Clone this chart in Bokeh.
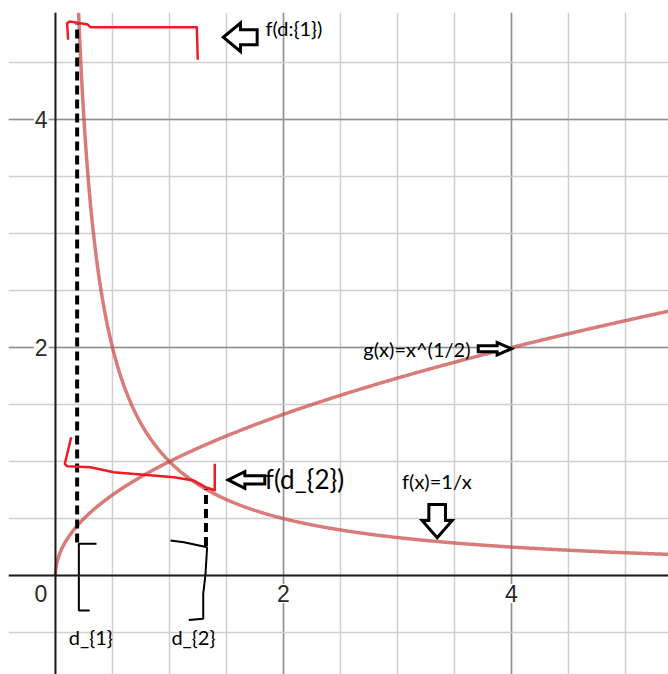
import numpy as np
from bokeh.plotting import figure
from bokeh.models import Range1d, Span, Grid, FixedTicker
from bokeh.core.properties import value
from bokeh.embed import file_html
from bokeh.resources import INLINE

# --- functions shown on the plot ---
f_label = "f(x)=1/x"
g_label = "g(x)=x^(1/2)"
f_x_start, x_end = 0.2025, 5.4

# --- tick labels ---
x_tick_vals = [2, 4]
x_tick_text = ["2", "4"]
y_tick_vals = [2, 4]
y_tick_text = ["2", "4"]
origin_text = "0"

# --- the two marked widths d_{1}, d_{2} ---
d_vals = [0.19, 1.32]
d_labels = ["d_{1}", "d_{2}"]
d_label_x = [0.31, 1.21]
d1_dash_top = 4.84               # the second one stops on 1/x
d_dash_bottom = [0.29, 0.26]

# hand-drawn red marks
red1_x = [0.111, 0.102, 0.123, 0.219, 0.283, 0.307, 1.240, 1.248]
red1_y = [4.700, 4.845, 4.860, 4.845, 4.833, 4.810, 4.810, 4.524]
red2_x = [0.138, 0.082, 0.103, 0.307, 0.511, 0.746, 1.038, 1.213, 1.316, 1.397, 1.397]
red2_y = [1.213, 0.980, 0.959, 0.950, 0.906, 0.886, 0.862, 0.833, 0.775, 0.748, 0.980]

# hand-drawn black brackets under the dashed lines
br1_x = [0.36, 0.205, 0.205, 0.30]
br1_y = [0.278, 0.278, -0.307, -0.307]
br2_x = [1.009, 1.126, 1.301, 1.330, 1.316, 1.296, 1.296, 1.169]
br2_y = [0.307, 0.292, 0.254, 0.248, 0.015, -0.160, -0.380, -0.389]

# block arrows: tip x, tip y, direction, head length, head half-width, shaft length, shaft half-width
arrows = [
    (1.472, 4.722, "left", 0.151, 0.125, 0.146, 0.065),
    (1.515, 0.839, "left", 0.146, 0.073, 0.175, 0.037),
    (4.000, 1.989, "right", 0.126, 0.054, 0.166, 0.026),
    (3.348, 0.331, "down", 0.151, 0.132, 0.141, 0.073),
]

# annotation texts: x, y, text, size, align
notes = [
    (1.842, 4.80, "f(d:{1})", "20px", "left"),
    (1.836, 0.851, "f(d_{2})", "26px", "left"),
    (3.64, 1.99, g_label, "20px", "right"),
    (3.04, 0.833, f_label, "20px", "left"),
]


def arrow_shape(tx, ty, d, hl, hh, sl, sh):
    u = [0, hl, hl, hl + sl, hl + sl, hl, hl]
    v = [0, hh, sh, sh, -sh, -sh, -hh]
    if d == "left":
        return [tx + a for a in u], [ty + b for b in v]
    if d == "right":
        return [tx - a for a in u], [ty + b for b in v]
    return [tx + b for b in v], [ty + a for a in u]


p = figure(width=668, height=674,
           x_range=Range1d(-0.412, 5.377), y_range=Range1d(-0.868, 4.939),
           output_backend="svg", toolbar_location=None,
           x_axis_location=None, y_axis_location=None,
           min_border_left=8, min_border_top=12, min_border_right=0, min_border_bottom=0)
p.outline_line_color = None
p.background_fill_color = "white"
p.border_fill_color = "white"
p.xgrid.visible = False
p.ygrid.visible = False

# grid: light every 0.5, darker every 2
minor = [k * 0.5 for k in range(-4, 13)]
major = [-2, 2, 4, 6]
for dim in (0, 1):
    p.add_layout(Grid(dimension=dim, ticker=FixedTicker(ticks=minor),
                      grid_line_color="#cfcfcf", grid_line_width=1.5))
    p.add_layout(Grid(dimension=dim, ticker=FixedTicker(ticks=major),
                      grid_line_color="#8f8f8f", grid_line_width=1.5))

# axes through the origin
p.add_layout(Span(location=0, dimension="width", line_color="#1c1c1c", line_width=2))
p.add_layout(Span(location=0, dimension="height", line_color="#1c1c1c", line_width=2))

# tick labels (white boxes break the grid lines behind them)
tick_style = dict(text_font=value("Liberation Sans"), text_font_size="23px",
                  text_color="#2a2a2a", text_align="center", text_baseline="middle")
p.text(x=[-0.127], y=[-0.158], text=[origin_text], **tick_style)
p.text(x=x_tick_vals, y=[-0.158] * len(x_tick_vals), text=x_tick_text,
       background_fill_color="white", padding=1, **tick_style)
p.text(x=[-0.125] * len(y_tick_vals), y=y_tick_vals, text=y_tick_text,
       background_fill_color="white", padding=1, **tick_style)

# curves
xf = np.linspace(f_x_start, x_end, 600)
xg = np.linspace(0, x_end, 600) ** 2 / x_end
curve_color = "#c74440"
p.line(xg, np.sqrt(xg), line_color=curve_color, line_alpha=0.7, line_width=3.5)
p.line(xf, 1 / xf, line_color=curve_color, line_alpha=0.7, line_width=3.5)

# dashed verticals at d_{1}, d_{2}
p.segment(x0=d_vals, y0=d_dash_bottom, x1=d_vals, y1=[d1_dash_top, 1 / d_vals[1]],
          line_color="black", line_width=4, line_dash="9 5")

# red hand marks
p.line(red1_x, red1_y, line_color="#ee1c24", line_width=2.5, line_join="round")
p.line(red2_x, red2_y, line_color="#ee1c24", line_width=2.5, line_join="round")

# brackets
p.line(br1_x, br1_y, line_color="black", line_width=2)
p.line(br2_x, br2_y, line_color="black", line_width=2)

# arrows
axs, ays = [], []
for a in arrows:
    xs, ys = arrow_shape(*a)
    axs.append(xs)
    ays.append(ys)
p.patches(axs, ays, fill_color="white", line_color="black", line_width=3, line_join="miter")

# texts
for x, y, t, s, al in notes:
    p.text(x=[x], y=[y], text=[t], text_font=value("Lato"), text_font_size=s,
           text_color="black", text_align=al, text_baseline="middle")

p.text(x=d_label_x, y=[-0.541] * 2, text=d_labels, text_font=value("Lato"),
       text_font_size="20px", text_color="black", text_align="center", text_baseline="middle")

open("out.html", "w").write(file_html(p, INLINE))
